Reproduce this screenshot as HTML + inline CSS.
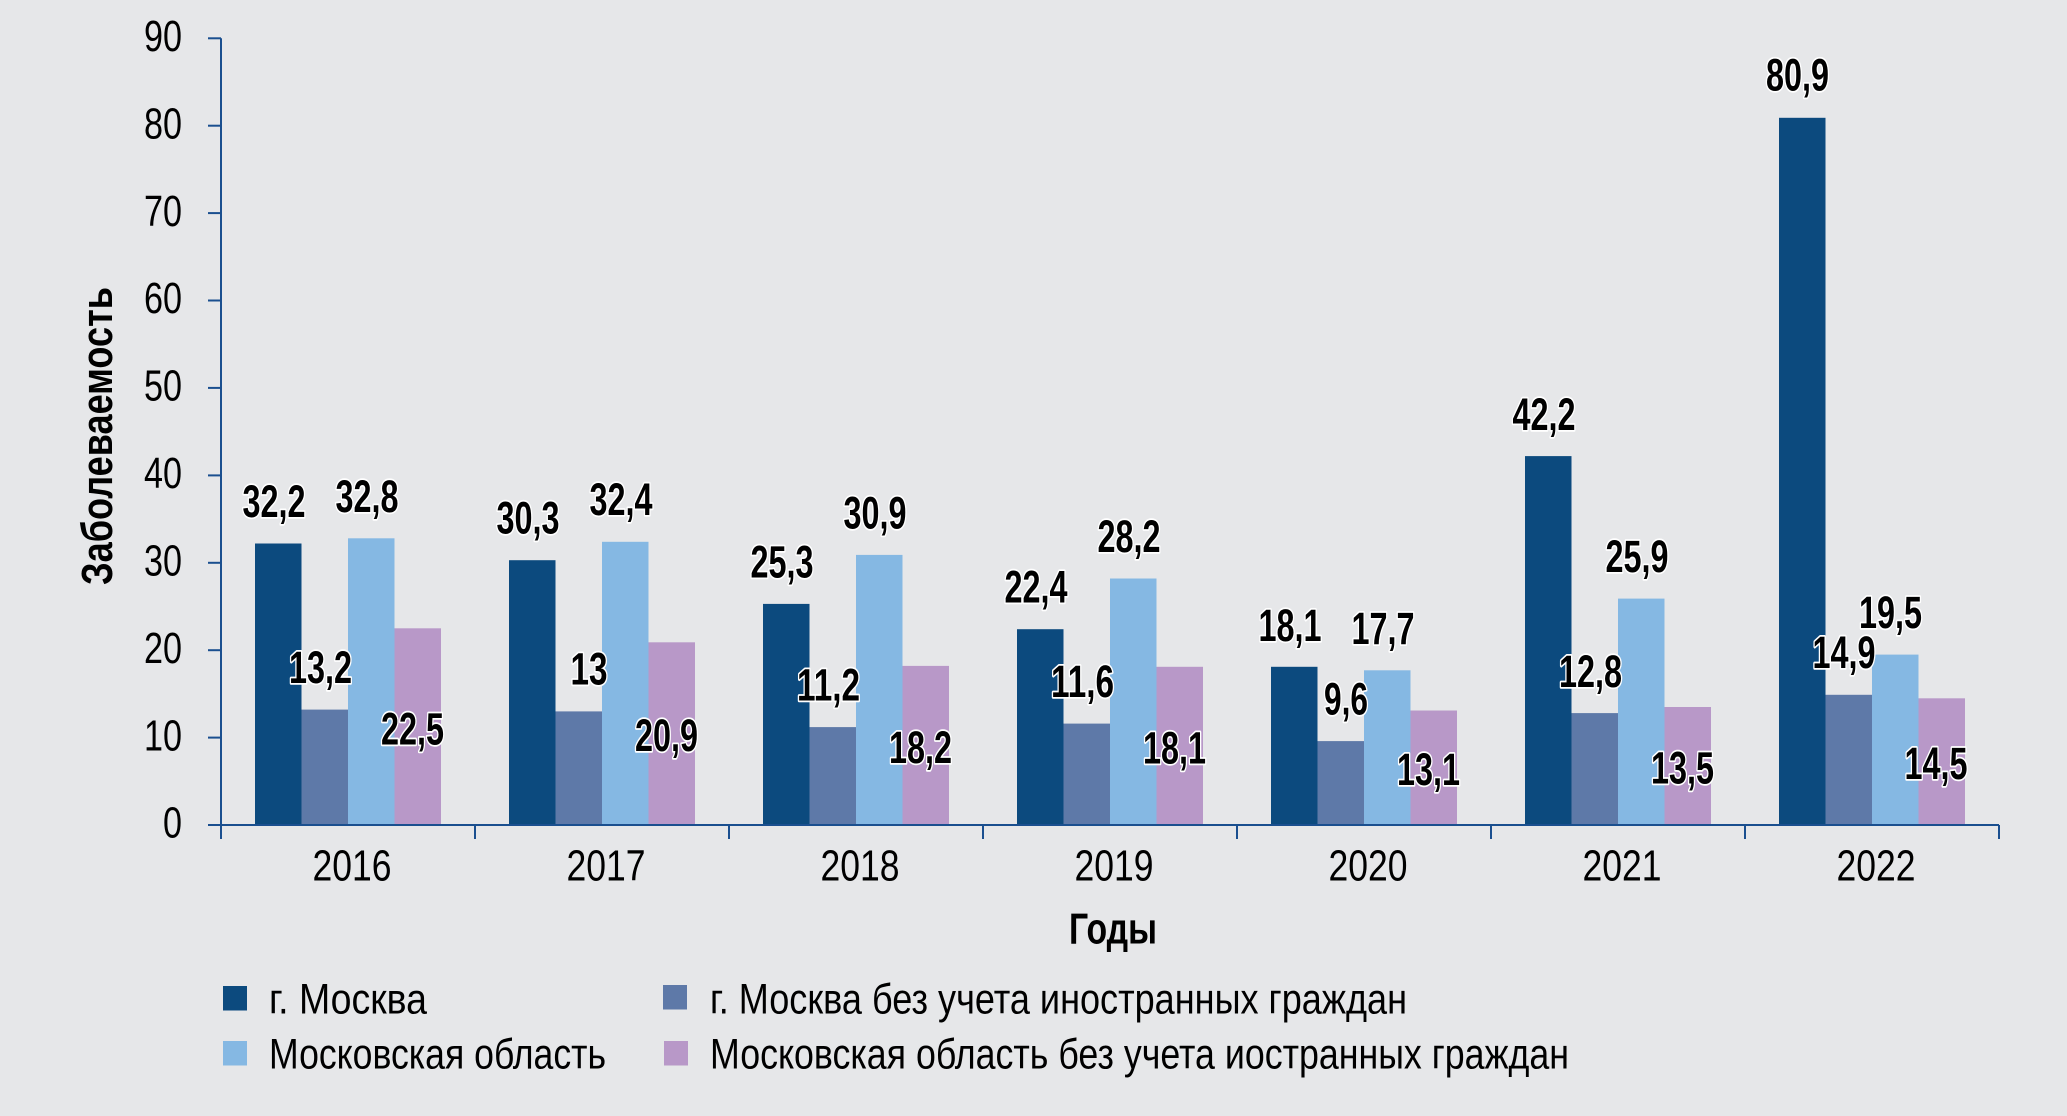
<!DOCTYPE html>
<html>
<head>
<meta charset="utf-8">
<style>
html,body{margin:0;padding:0;background:#e6e7e9;}
svg{display:block;}
text{font-family:"Liberation Sans Narrow","Liberation Sans",sans-serif;fill:#000;}
.v{font-weight:bold;font-size:45px;stroke:#fff;stroke-width:3.5px;paint-order:stroke;stroke-linejoin:round;text-anchor:middle;}
.t{font-size:44px;}
.lg{font-size:43px;}
</style>
</head>
<body>
<svg width="2067" height="1116" viewBox="0 0 2067 1116" xmlns="http://www.w3.org/2000/svg">
<rect x="0" y="0" width="2067" height="1116" fill="#e6e7e9"/>

<g>
<rect x="255" y="543.5" width="46.5" height="281.5" fill="#0c4a7e"/>
<rect x="301.5" y="709.6" width="46.5" height="115.4" fill="#5e79a8"/>
<rect x="348" y="538.3" width="46.5" height="286.7" fill="#85b8e3"/>
<rect x="394.5" y="628.3" width="46.5" height="196.7" fill="#b898c8"/>
<rect x="509" y="560.2" width="46.5" height="264.8" fill="#0c4a7e"/>
<rect x="555.5" y="711.4" width="46.5" height="113.6" fill="#5e79a8"/>
<rect x="602" y="541.8" width="46.5" height="283.2" fill="#85b8e3"/>
<rect x="648.5" y="642.3" width="46.5" height="182.7" fill="#b898c8"/>
<rect x="763" y="603.9" width="46.5" height="221.1" fill="#0c4a7e"/>
<rect x="809.5" y="727.1" width="46.5" height="97.9" fill="#5e79a8"/>
<rect x="856" y="554.9" width="46.5" height="270.1" fill="#85b8e3"/>
<rect x="902.5" y="665.9" width="46.5" height="159.1" fill="#b898c8"/>
<rect x="1017" y="629.2" width="46.5" height="195.8" fill="#0c4a7e"/>
<rect x="1063.5" y="723.6" width="46.5" height="101.4" fill="#5e79a8"/>
<rect x="1110" y="578.5" width="46.5" height="246.5" fill="#85b8e3"/>
<rect x="1156.5" y="666.8" width="46.5" height="158.2" fill="#b898c8"/>
<rect x="1271" y="666.8" width="46.5" height="158.2" fill="#0c4a7e"/>
<rect x="1317.5" y="741.1" width="46.5" height="83.9" fill="#5e79a8"/>
<rect x="1364" y="670.3" width="46.5" height="154.7" fill="#85b8e3"/>
<rect x="1410.5" y="710.5" width="46.5" height="114.5" fill="#b898c8"/>
<rect x="1525" y="456.1" width="46.5" height="368.9" fill="#0c4a7e"/>
<rect x="1571.5" y="713.1" width="46.5" height="111.9" fill="#5e79a8"/>
<rect x="1618" y="598.6" width="46.5" height="226.4" fill="#85b8e3"/>
<rect x="1664.5" y="707.0" width="46.5" height="118.0" fill="#b898c8"/>
<rect x="1779" y="117.8" width="46.5" height="707.2" fill="#0c4a7e"/>
<rect x="1825.5" y="694.8" width="46.5" height="130.2" fill="#5e79a8"/>
<rect x="1872" y="654.6" width="46.5" height="170.4" fill="#85b8e3"/>
<rect x="1918.5" y="698.3" width="46.5" height="126.7" fill="#b898c8"/>
</g>

<g stroke="#1a4f8f" stroke-width="2" fill="none">
<line x1="221" y1="38.3" x2="221" y2="839"/>
<line x1="208" y1="825" x2="1999" y2="825"/>
<line x1="208" y1="38.3" x2="221" y2="38.3"/>
<line x1="208" y1="125.7" x2="221" y2="125.7"/>
<line x1="208" y1="213.1" x2="221" y2="213.1"/>
<line x1="208" y1="300.5" x2="221" y2="300.5"/>
<line x1="208" y1="387.9" x2="221" y2="387.9"/>
<line x1="208" y1="475.4" x2="221" y2="475.4"/>
<line x1="208" y1="562.8" x2="221" y2="562.8"/>
<line x1="208" y1="650.2" x2="221" y2="650.2"/>
<line x1="208" y1="737.6" x2="221" y2="737.6"/>
<line x1="475" y1="825" x2="475" y2="839"/>
<line x1="729" y1="825" x2="729" y2="839"/>
<line x1="983" y1="825" x2="983" y2="839"/>
<line x1="1237" y1="825" x2="1237" y2="839"/>
<line x1="1491" y1="825" x2="1491" y2="839"/>
<line x1="1745" y1="825" x2="1745" y2="839"/>
<line x1="1999" y1="825" x2="1999" y2="839"/>
</g>

<g class="t" text-anchor="end">
<text x="182" y="51" textLength="38" lengthAdjust="spacingAndGlyphs">90</text>
<text x="182" y="138.4" textLength="38" lengthAdjust="spacingAndGlyphs">80</text>
<text x="182" y="225.8" textLength="38" lengthAdjust="spacingAndGlyphs">70</text>
<text x="182" y="313.2" textLength="38" lengthAdjust="spacingAndGlyphs">60</text>
<text x="182" y="400.6" textLength="38" lengthAdjust="spacingAndGlyphs">50</text>
<text x="182" y="488.1" textLength="38" lengthAdjust="spacingAndGlyphs">40</text>
<text x="182" y="575.5" textLength="38" lengthAdjust="spacingAndGlyphs">30</text>
<text x="182" y="662.9" textLength="38" lengthAdjust="spacingAndGlyphs">20</text>
<text x="182" y="750.3" textLength="38" lengthAdjust="spacingAndGlyphs">10</text>
<text x="182" y="837.7" textLength="19" lengthAdjust="spacingAndGlyphs">0</text>
</g>

<g class="t" text-anchor="middle">
<text x="352" y="880.5" textLength="79" lengthAdjust="spacingAndGlyphs">2016</text>
<text x="606" y="880.5" textLength="79" lengthAdjust="spacingAndGlyphs">2017</text>
<text x="860" y="880.5" textLength="79" lengthAdjust="spacingAndGlyphs">2018</text>
<text x="1114" y="880.5" textLength="79" lengthAdjust="spacingAndGlyphs">2019</text>
<text x="1368" y="880.5" textLength="79" lengthAdjust="spacingAndGlyphs">2020</text>
<text x="1622" y="880.5" textLength="79" lengthAdjust="spacingAndGlyphs">2021</text>
<text x="1876" y="880.5" textLength="79" lengthAdjust="spacingAndGlyphs">2022</text>
</g>

<text x="1113" y="943.5" text-anchor="middle" font-weight="bold" font-size="44" textLength="88" lengthAdjust="spacingAndGlyphs">Годы</text>
<text x="0" y="0" transform="translate(112,436) rotate(-90)" text-anchor="middle" font-weight="bold" font-size="44" textLength="298" lengthAdjust="spacingAndGlyphs">Заболеваемость</text>

<g>
<text class="v" x="274" y="517" textLength="63" lengthAdjust="spacingAndGlyphs">32,2</text>
<text class="v" x="320.5" y="683" textLength="63" lengthAdjust="spacingAndGlyphs">13,2</text>
<text class="v" x="367" y="512" textLength="63" lengthAdjust="spacingAndGlyphs">32,8</text>
<text class="v" x="412.5" y="744.5" textLength="63" lengthAdjust="spacingAndGlyphs">22,5</text>

<text class="v" x="528" y="533.5" textLength="63" lengthAdjust="spacingAndGlyphs">30,3</text>
<text class="v" x="589" y="684.5" textLength="37" lengthAdjust="spacingAndGlyphs">13</text>
<text class="v" x="621" y="515" textLength="63" lengthAdjust="spacingAndGlyphs">32,4</text>
<text class="v" x="666.5" y="751" textLength="63" lengthAdjust="spacingAndGlyphs">20,9</text>

<text class="v" x="782" y="577.5" textLength="63" lengthAdjust="spacingAndGlyphs">25,3</text>
<text class="v" x="828.5" y="700.5" textLength="63" lengthAdjust="spacingAndGlyphs">11,2</text>
<text class="v" x="875" y="528.5" textLength="63" lengthAdjust="spacingAndGlyphs">30,9</text>
<text class="v" x="920.5" y="763" textLength="63" lengthAdjust="spacingAndGlyphs">18,2</text>

<text class="v" x="1036" y="602.5" textLength="63" lengthAdjust="spacingAndGlyphs">22,4</text>
<text class="v" x="1082.5" y="697" textLength="63" lengthAdjust="spacingAndGlyphs">11,6</text>
<text class="v" x="1129" y="552" textLength="63" lengthAdjust="spacingAndGlyphs">28,2</text>
<text class="v" x="1174.5" y="763.5" textLength="63" lengthAdjust="spacingAndGlyphs">18,1</text>

<text class="v" x="1290" y="641" textLength="63" lengthAdjust="spacingAndGlyphs">18,1</text>
<text class="v" x="1346" y="714.5" textLength="44" lengthAdjust="spacingAndGlyphs">9,6</text>
<text class="v" x="1383" y="644" textLength="63" lengthAdjust="spacingAndGlyphs">17,7</text>
<text class="v" x="1428.5" y="785" textLength="63" lengthAdjust="spacingAndGlyphs">13,1</text>

<text class="v" x="1544" y="430" textLength="63" lengthAdjust="spacingAndGlyphs">42,2</text>
<text class="v" x="1590.5" y="687" textLength="63" lengthAdjust="spacingAndGlyphs">12,8</text>
<text class="v" x="1637" y="572" textLength="63" lengthAdjust="spacingAndGlyphs">25,9</text>
<text class="v" x="1682.5" y="783.5" textLength="63" lengthAdjust="spacingAndGlyphs">13,5</text>

<text class="v" x="1797.5" y="90.5" textLength="63" lengthAdjust="spacingAndGlyphs">80,9</text>
<text class="v" x="1844" y="668" textLength="63" lengthAdjust="spacingAndGlyphs">14,9</text>
<text class="v" x="1890.5" y="628" textLength="63" lengthAdjust="spacingAndGlyphs">19,5</text>
<text class="v" x="1936" y="779" textLength="63" lengthAdjust="spacingAndGlyphs">14,5</text>
</g>

<rect x="223" y="986" width="24" height="24.5" fill="#0c4a7e"/>
<rect x="223" y="1041" width="24" height="24.5" fill="#85b8e3"/>
<rect x="663" y="985" width="24" height="24.5" fill="#5e79a8"/>
<rect x="664" y="1041" width="24" height="24.5" fill="#b898c8"/>
<g class="lg">
<text x="269" y="1013.5" textLength="158" lengthAdjust="spacingAndGlyphs">г. Москва</text>
<text x="269" y="1068.5" textLength="337" lengthAdjust="spacingAndGlyphs">Московская область</text>
<text x="710" y="1013.5" textLength="697" lengthAdjust="spacingAndGlyphs">г. Москва без учета иностранных граждан</text>
<text x="710" y="1068.5" textLength="859" lengthAdjust="spacingAndGlyphs">Московская область без учета иостранных граждан</text>
</g>
</svg>
</body>
</html>
